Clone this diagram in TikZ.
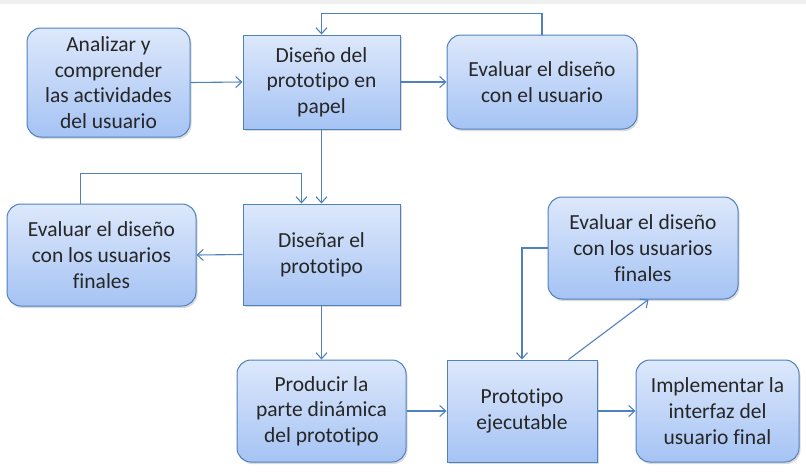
\documentclass[tikz,border=0pt]{standalone}
\usepackage{fontspec}
\setmainfont{Carlito}[RawFeature=-liga]
\usetikzlibrary{arrows.meta,shadows,calc}
\definecolor{lineblue}{HTML}{4F81BD}
\definecolor{topfill}{HTML}{DDE8FB}
\definecolor{botfill}{HTML}{A5C3F4}
\tikzset{
  boxbase/.style={draw=lineblue, line width=1pt, top color=topfill, bottom color=botfill,
    align=center, inner sep=2pt, font=\fontsize{21.5}{25.7}\selectfont, text=black!85,
    drop shadow={shadow xshift=1.5pt, shadow yshift=-2pt, opacity=0.35, fill=black!40}},
  rbox/.style={boxbase, rounded corners=14pt},
  sbox/.style={boxbase},
  conn/.style={draw=lineblue, line width=1.1pt, -{Straight Barb[length=6pt,width=11pt,line width=1.1pt]}}
}
\begin{document}
\begin{tikzpicture}[x=1pt,y=-1pt]
\useasboundingbox (0,0) rectangle (806,475);
\fill[black!6] (0,0) rectangle (806,3.5);
% nodes
\node[rbox, minimum width=163pt, minimum height=109pt] (a) at (108.5,82.5) {Analizar y\\comprender\\las actividades\\del usuario};
\node[sbox, minimum width=157pt, minimum height=94pt] (b) at (321.5,82) {Diseño del\\prototipo en\\papel};
\node[rbox, minimum width=190pt, minimum height=94pt] (c) at (542,82) {Evaluar el diseño\\con el usuario};
\node[rbox, minimum width=189pt, minimum height=102pt] (d) at (101.5,255) {Evaluar el diseño\\con los usuarios\\finales};
\node[sbox, minimum width=157pt, minimum height=101pt] (e) at (321.5,254.5) {Diseñar el\\prototipo};
\node[rbox, minimum width=169pt, minimum height=102pt] (f) at (321.5,411) {Producir la\\parte dinámica\\del prototipo};
\node[sbox, minimum width=150pt, minimum height=102pt] (g) at (522,411) {Prototipo\\ejecutable};
\node[rbox, minimum width=163pt, minimum height=102pt] (h) at (717.5,411) {Implementar la\\interfaz del\\usuario final};
\node[rbox, minimum width=190pt, minimum height=102pt] (i) at (643,248) {Evaluar el diseño\\con los usuarios\\finales};
% helper coordinates
\coordinate (dn) at ($(d.north west)+(74,0)$);
\coordinate (en) at ($(e.north west)+(59,0)$);
\coordinate (gn) at ($(g.north west)+(122,0)$);
\coordinate (is) at ($(i.south west)+(101,0)$);
\coordinate (ctop) at ($(c.north)+(0,-21)$);
\coordinate (dtop) at ($(dn)+(0,-30)$);
% connectors
\draw[conn] (a.east) -- (b.west);
\draw[conn] (b.east) -- (c.west);
\draw[conn] (c.north) -- (ctop) -- (ctop -| b.north) -- (b.north);
\draw[conn] (b.south) -- (e.north);
\draw[conn] (dn) -- (dtop) -- (dtop -| en) -- (en);
\draw[conn] (e.west) -- (d.east);
\draw[conn] (e.south) -- (f.north);
\draw[conn] (f.east) -- (g.west);
\draw[conn] (g.east) -- (h.west);
\draw[conn] (gn) -- (is);
\draw[conn] (i.west) -- (i.west -| g.north) -- (g.north);
\end{tikzpicture}
\end{document}
